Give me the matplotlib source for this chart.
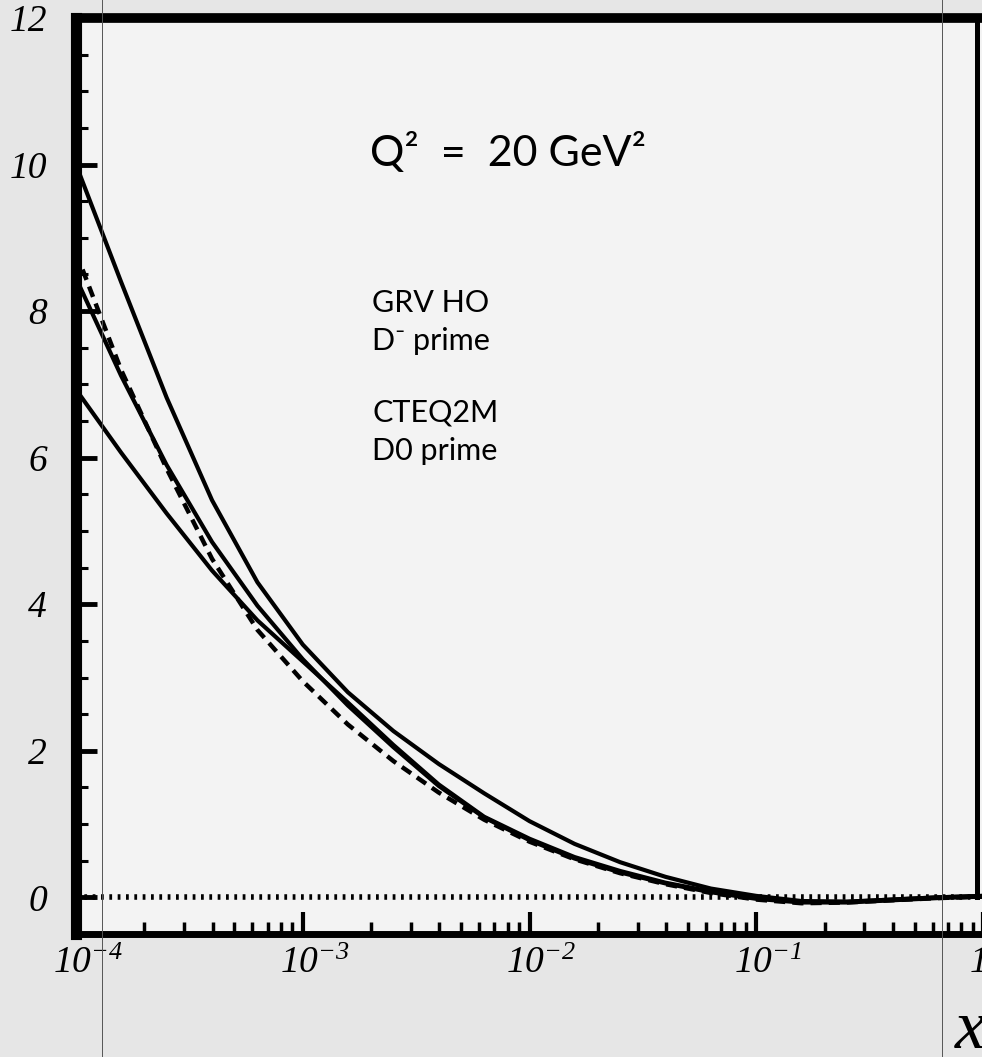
import numpy as np
import matplotlib
matplotlib.use("Agg")
import matplotlib.pyplot as plt
import matplotlib.transforms as mtransforms
from matplotlib.lines import Line2D
from matplotlib.ticker import FixedLocator, FuncFormatter, LogLocator, NullFormatter

# values (x on log scale, 0.2 decade steps)
x_vals = [1e-4, 1.58e-4, 2.51e-4, 3.98e-4, 6.31e-4,
          1e-3, 1.58e-3, 2.51e-3, 3.98e-3, 6.31e-3,
          1e-2, 1.58e-2, 2.51e-2, 3.98e-2, 6.31e-2,
          1e-1, 1.58e-1, 2.51e-1, 3.98e-1, 6.31e-1, 1.0]

curve_a = [10.0, 8.40, 6.82, 5.42, 4.30, 3.45, 2.80, 2.27, 1.82, 1.42,
           1.04, 0.73, 0.48, 0.28, 0.12, 0.02, -0.05, -0.06, -0.03, 0.00, 0.02]
curve_c = [8.45, 7.12, 5.90, 4.85, 3.98, 3.25, 2.62, 2.05, 1.52, 1.09,
           0.78, 0.53, 0.34, 0.19, 0.07, -0.02, -0.07, -0.07, -0.04, -0.01, 0.01]
curve_e = [6.93, 6.07, 5.24, 4.46, 3.78, 3.22, 2.66, 2.08, 1.54, 1.10,
           0.80, 0.55, 0.36, 0.20, 0.08, -0.01, -0.06, -0.06, -0.03, 0.00, 0.02]
curve_dash = [8.80, 7.20, 5.85, 4.62, 3.65, 2.95, 2.36, 1.86, 1.43, 1.06,
              0.76, 0.52, 0.33, 0.18, 0.06, -0.03, -0.08, -0.07, -0.04, -0.01, 0.01]

x_major = [1e-4, 1e-3, 1e-2, 1e-1, 1.0]
y_major = [0, 2, 4, 6, 8, 10, 12]
y_minor = list(np.arange(0, 12.01, 0.5))
frame_right = 0.94

title_text = "Q²  =  20 GeV²"
legend_lines = ["GRV HO", "D\u207b prime", "CTEQ2M", "D0 prime"]

plt.rcParams["font.family"] = ["Liberation Serif"]
plt.rcParams["font.style"] = "italic"
plt.rcParams["mathtext.fontset"] = "custom"
plt.rcParams["mathtext.rm"] = "Liberation Serif:italic"
plt.rcParams["mathtext.it"] = "Liberation Serif:italic"
plt.rcParams["mathtext.default"] = "rm"

W, H = 982, 1057
fig = plt.figure(figsize=(W / 100, H / 100), dpi=100)
fig.patch.set_facecolor("#e6e6e6")
ax = fig.add_axes([76 / W, 1 - 934 / H, (983 - 76) / W, (934 - 18) / H])
ax.set_facecolor("#f3f3f3")

ax.set_xscale("log")
ax.set_xlim(1e-4, 1.0)
ax.set_ylim(-0.5, 12)

# curves
for ys in [curve_a, curve_c, curve_e]:
    ax.plot(x_vals, ys, color="black", lw=3.0, solid_joinstyle="round")
ax.plot(x_vals, curve_dash, color="black", lw=3.2, ls=(0, (2.5, 1.6)))

# dotted zero line and the right border of the box
xr = (np.log10(frame_right) + 4) / 4
ax.axhline(0, xmax=xr, color="black", lw=4, ls=(0, (0.5, 1.0)))
ax.axvline(frame_right, ymin=0.5 / 12.5, ymax=1, color="black", lw=3.6)

for side in ["left", "top", "bottom"]:
    ax.spines[side].set_color("black")
    ax.spines[side].set_capstyle("projecting")
ax.spines["left"].set_linewidth(8)
ax.spines["top"].set_linewidth(7)
ax.spines["bottom"].set_linewidth(5)
ax.spines["right"].set_visible(False)

# ticks
ax.yaxis.set_major_locator(FixedLocator(y_major))
ax.yaxis.set_minor_locator(FixedLocator(y_minor))
ax.yaxis.set_major_formatter(FuncFormatter(lambda v, p: "%d" % v))
ax.set_xticks(x_major)
ax.xaxis.set_minor_locator(LogLocator(base=10, subs=np.arange(2, 10), numticks=50))
ax.xaxis.set_minor_formatter(NullFormatter())
ax.xaxis.set_major_formatter(FuncFormatter(lambda v, p: r"$10^{%d}$" % int(round(np.log10(v)))))

ax.tick_params(axis="y", which="major", direction="in", length=15, width=3.5,
               pad=21, labelsize=27, right=False)
ax.tick_params(axis="y", which="minor", direction="in", length=8.5, width=2.2, right=False)
ax.tick_params(axis="x", which="major", direction="in", length=16, width=3,
               pad=9, labelsize=27, top=False)
ax.tick_params(axis="x", which="minor", direction="in", length=9, width=2.5, top=False)

shift = mtransforms.ScaledTranslation(0.12, 0, fig.dpi_scale_trans)
for lbl in ax.xaxis.get_majorticklabels():
    lbl.set_transform(lbl.get_transform() + shift)

# annotations
sans = ["Lato", "DejaVu Sans"]
fig.text(370 / W, 1 - 166 / H, title_text, fontsize=31, family=sans,
         style="normal", va="baseline")
baselines = [312, 350, 422, 460]
for txt, yb in zip(legend_lines, baselines):
    fig.text(372 / W, 1 - yb / H, txt, fontsize=22, family=sans,
             style="normal", va="baseline")

fig.text(955 / W, 1 - 1048 / H, "x", fontsize=50, family="Liberation Serif",
         style="italic", va="baseline")

# faint vertical scan lines
for xp in [102, 942]:
    fig.add_artist(Line2D([xp / W, xp / W], [0, 1], transform=fig.transFigure,
                          color="#555555", lw=0.7))

fig.savefig("out.png", dpi=100, facecolor=fig.get_facecolor())
